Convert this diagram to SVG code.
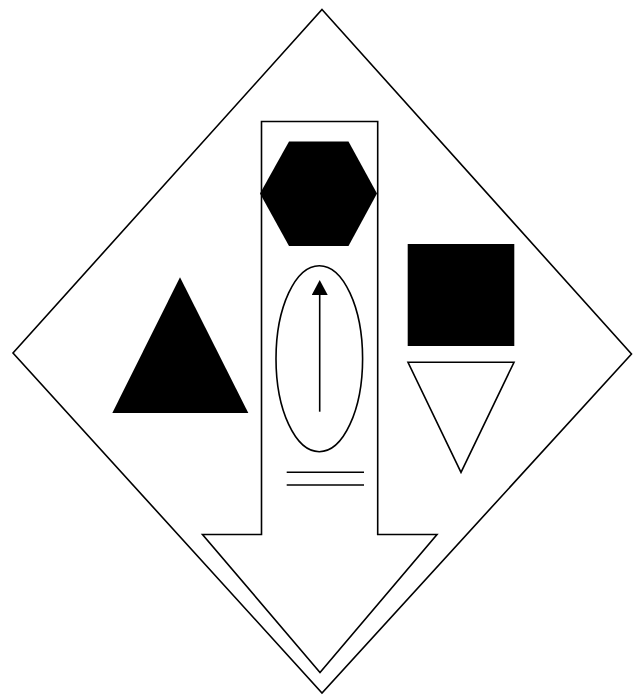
<svg xmlns="http://www.w3.org/2000/svg" width="642" height="695" viewBox="0 0 642 695">
<style>
.o{fill:none;stroke:#000;stroke-width:1.6;stroke-linejoin:miter}
.w{fill:#fff;stroke:#000;stroke-width:1.6}
.f{fill:#000;stroke:none}
</style>
<defs>
<marker id="ah" markerWidth="16" markerHeight="16" refX="0" refY="8" orient="auto" markerUnits="userSpaceOnUse" viewBox="0 0 16 16">
<path d="M0,0 L15,8 L0,16 Z" fill="#000"/>
</marker>
</defs>
<rect width="642" height="695" fill="#fff"/>
<g id="diamond"><path class="w" d="M322,9.5 L631.5,354 L322,693 L13,353 Z"/></g>
<g id="bigArrow"><path class="w" d="M261.5,121.5 L377.7,121.5 L377.7,534.5 L437,534.5 L320,672.5 L202.5,534.5 L261.5,534.5 Z"/></g>
<g id="hexagon"><path class="f" d="M289,141.5 L348.5,141.5 L377,193.5 L348.5,246 L289,246 L260,193.5 Z"/></g>
<g id="ellipse"><ellipse class="o" cx="319.3" cy="358.7" rx="43.3" ry="93"/></g>
<g id="connectors">
<line x1="319.7" y1="411.7" x2="319.7" y2="295" stroke="#000" stroke-width="1.6" marker-end="url(#ah)"/>
</g>
<g id="doubleLine">
<line x1="286.7" y1="472.3" x2="364" y2="472.3" stroke="#000" stroke-width="1.6"/>
<line x1="286.7" y1="485" x2="364" y2="485" stroke="#000" stroke-width="1.6"/>
</g>
<g id="triangle"><path class="f" d="M180,277.3 L248.3,413 L112.3,413 Z"/></g>
<g id="square"><rect class="f" x="407.7" y="244" width="106.6" height="102"/></g>
<g id="invTriangle"><path class="o" d="M408,362.3 L514,362.3 L461,472.3 Z"/></g>
</svg>
